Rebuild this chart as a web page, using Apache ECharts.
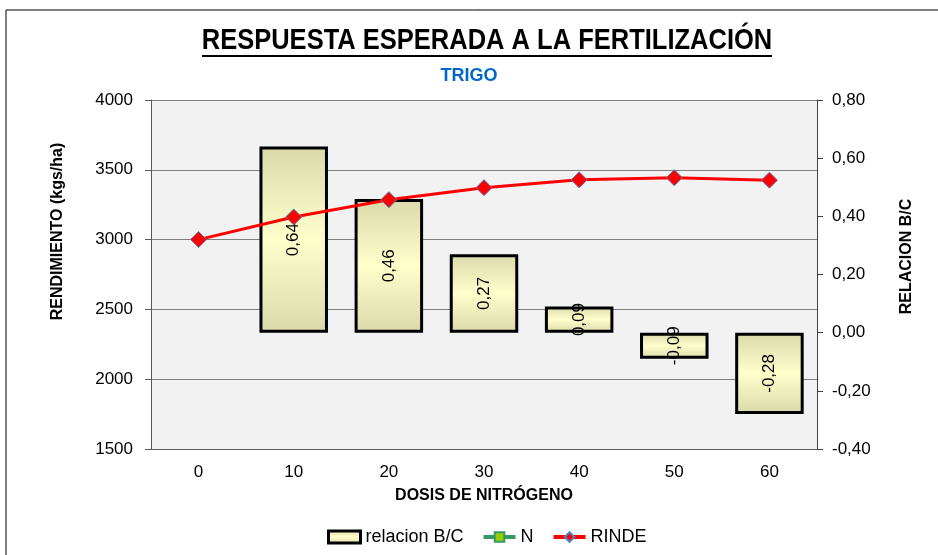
<!DOCTYPE html>
<html>
<head>
<meta charset="utf-8">
<script src="https://cdn.jsdelivr.net/npm/echarts@6/dist/echarts.min.js"></script>
<style>
  html, body { margin: 0; padding: 0; background: #fff; }
  #chart { width: 938px; height: 555px; }
</style>
</head>
<body>
<div id="chart"></div>
<script>
// doses of nitrogen (x axis)
const doses = ['0', '10', '20', '30', '40', '50', '60']
// yield, kgs/ha (left axis)
const rinde = [3000, 3162, 3286, 3372, 3428, 3443, 3426]
// benefit / cost ratio (right axis), no bar at dose 0
const relacionBC = [null, 0.64, 0.46, 0.27, 0.09, -0.09, -0.28]
// N series shows only in the legend
const nSeries = []

const leftTicks = { min: 1500, max: 4000, interval: 500 }
const rightTicks = { min: -0.4, max: 0.8, interval: 0.2 }

const font = "'Liberation Sans', Arial, sans-serif"
const comma = (v, d) => Number(v).toFixed(d).replace('.', ',')

const chart = echarts.init(document.getElementById('chart'))

chart.setOption({
  backgroundColor: '#fff',
  textStyle: { fontFamily: font },
  title: {
    text: 'TRIGO',
    left: 'center',
    top: 62,
    textStyle: { fontFamily: font, fontSize: 18, fontWeight: 'bold', color: '#0066cc' },
  },
  graphic: [
    // outer chart frame
    { type: 'rect', shape: { x: 6, y: 10, width: 1000, height: 600 }, style: { fill: null, stroke: '#000', lineWidth: 1 }, silent: true },
    // main title, condensed like Arial Narrow
    {
      type: 'text',
      x: 487,
      y: 41,
      scaleX: 0.85,
      style: {
        text: 'RESPUESTA ESPERADA A LA FERTILIZACIÓN',
        font: "bold 30px 'Liberation Sans', Arial, sans-serif",
        fill: '#000',
        align: 'center',
        verticalAlign: 'middle',
      },
      silent: true,
    },
    // title underline
    { type: 'line', shape: { x1: 202, y1: 56, x2: 772, y2: 56 }, style: { stroke: '#000', lineWidth: 2 }, silent: true },
  ],
  grid: {
    left: 151,
    right: 121,
    top: 100,
    bottom: 106,
    show: true,
    backgroundColor: '#f2f2f2',
    borderWidth: 0,
  },
  legend: {
    bottom: 4,
    left: 322,
    itemWidth: 32,
    itemHeight: 12,
    itemGap: 18,
    textStyle: { fontFamily: font, fontSize: 18, color: '#000' },
    data: [
      { name: 'relacion B/C', icon: 'rect', itemStyle: { borderWidth: 3, borderColor: '#000' } },
      { name: 'N', lineStyle: { width: 4 } },
      { name: 'RINDE', lineStyle: { width: 4 } },
    ],
  },
  xAxis: {
    type: 'category',
    data: doses,
    name: 'DOSIS DE NITRÓGENO',
    nameLocation: 'middle',
    nameGap: 39,
    nameTextStyle: { fontFamily: font, fontSize: 16, fontWeight: 'bold', color: '#000' },
    axisLine: { onZero: false, lineStyle: { color: '#595959', width: 1 } },
    axisTick: { alignWithLabel: false, length: 6, lineStyle: { color: '#595959' } },
    axisLabel: { fontSize: 17, color: '#000', margin: 15 },
  },
  yAxis: [
    {
      type: 'value',
      min: leftTicks.min,
      max: leftTicks.max,
      interval: leftTicks.interval,
      name: 'RENDIMIENTO (kgs/ha)',
      nameLocation: 'middle',
      nameRotate: 90,
      nameGap: 85,
      nameTextStyle: { fontFamily: font, fontSize: 16, fontWeight: 'bold', color: '#000', padding: [0, 0, 0, 86] },
      axisLine: { show: true, lineStyle: { color: '#595959' } },
      axisTick: { show: true, length: 6, lineStyle: { color: '#595959' } },
      axisLabel: { fontSize: 17, color: '#000', margin: 18, formatter: v => String(v) },
      splitLine: { lineStyle: { color: '#808080', width: 1 } },
    },
    {
      type: 'value',
      position: 'right',
      min: rightTicks.min,
      max: rightTicks.max,
      interval: rightTicks.interval,
      name: 'RELACION B/C',
      nameLocation: 'middle',
      nameRotate: 90,
      nameGap: 82,
      nameTextStyle: { fontFamily: font, fontSize: 16, fontWeight: 'bold', color: '#000', padding: [0, 0, 0, 36] },
      axisLine: { show: true, lineStyle: { color: '#404040' } },
      axisTick: { show: true, length: 6, lineStyle: { color: '#404040' } },
      axisLabel: { fontSize: 17, color: '#000', margin: 15, formatter: v => comma(v, 2) },
      splitLine: { show: false },
    },
  ],
  series: [
    {
      name: 'relacion B/C',
      type: 'bar',
      yAxisIndex: 1,
      data: relacionBC,
      barWidth: '72%',
      itemStyle: {
        color: new echarts.graphic.LinearGradient(0, 0, 0, 1, [
          { offset: 0, color: '#d9d9ab' },
          { offset: 0.5, color: '#ffffcc' },
          { offset: 1, color: '#d9d9ab' },
        ]),
        borderColor: '#000',
        borderWidth: 3,
      },
      label: {
        show: true,
        position: 'inside',
        rotate: 90,
        fontSize: 17,
        color: '#000',
        formatter: p => comma(p.value, 2),
      },
      z: 2,
    },
    {
      name: 'N',
      type: 'line',
      data: nSeries,
      symbol: 'rect',
      symbolSize: 11,
      lineStyle: { color: '#339966', width: 4 },
      itemStyle: { color: '#99cc00', borderColor: '#339966', borderWidth: 1 },
    },
    {
      name: 'RINDE',
      type: 'line',
      yAxisIndex: 0,
      data: rinde,
      symbol: 'diamond',
      symbolSize: 16,
      lineStyle: { color: '#ff0000', width: 3 },
      itemStyle: { color: '#ff0000', borderColor: '#4f81bd', borderWidth: 1 },
      z: 5,
    },
  ],
})
</script>
</body>
</html>
